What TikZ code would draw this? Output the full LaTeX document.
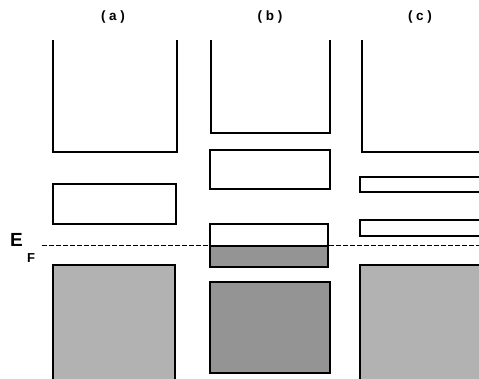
\documentclass[tikz,border=0pt]{standalone}
\usepackage{fontspec}
\setmainfont{Liberation Sans}
\begin{document}
\begin{tikzpicture}[x=1pt,y=-1pt,
  band/.style={draw=black,line width=1.3pt},
  filled/.style={band,fill=black!30},
  filleddark/.style={band,fill=black!42},
  lbl/.style={font=\bfseries\fontsize{13.5}{15}\selectfont}]
\useasboundingbox (0,0) rectangle (479,379);
% labels
\node[lbl] (la) at (113,17) {( a )};
\node[lbl] (lb) at (270,17) {( b )};
\node[lbl] (lc) at (420,17) {( c )};
% (a)
\draw[band] (53,40) -- (53,152) -- (177,152) -- (177,40);
\draw[band] (53,184) rectangle (176,224);
\draw[filled] (53,265) rectangle (175,380);
% (b)
\draw[band] (211,40) -- (211,133) -- (330,133) -- (330,40);
\draw[band] (210,150) rectangle (330,189);
\draw[filleddark] (210,246) rectangle (328,267);
\draw[band] (210,224) rectangle (328,267);
\draw[filleddark] (210,282) rectangle (330,373);
% (c)
\draw[band] (362,40) -- (362,152) -- (481,152);
\draw[band] (360,177) rectangle (481,192);
\draw[band] (360,220) rectangle (481,236);
\draw[filled] (360,265) rectangle (481,380);
% Fermi level
\draw[line width=1.1pt,dash pattern=on 4.5pt off 2.5pt] (42,245.5) -- (479,245.5);
\node[font=\bfseries\fontsize{19}{21}\selectfont,anchor=base west,inner sep=0] (E) at (10,247) {E};
\node[font=\bfseries\fontsize{13}{15}\selectfont,anchor=base west,inner sep=0] (F) at (27,262) {F};
\end{tikzpicture}
\end{document}
